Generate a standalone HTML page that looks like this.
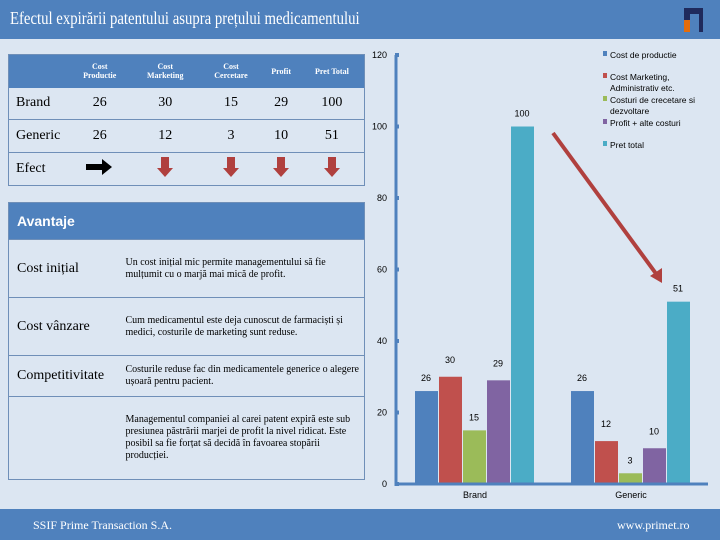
<!DOCTYPE html>
<html><head><meta charset="utf-8"><style>
*{margin:0;padding:0;box-sizing:border-box}
body{width:720px;height:540px;position:relative;background:#dce6f2;font-family:"Liberation Serif",serif;overflow:hidden}
.abs{position:absolute}
.hdr{left:0;top:0;width:720px;height:39px;background:#4f81bd}
.title{left:10px;top:8px;color:#fff;font-size:18px;transform:scaleX(0.82);transform-origin:0 0;white-space:nowrap}
.ftr{left:0;top:509px;width:720px;height:31px;background:#4f81bd;color:#fff;font-size:12px}
table{border-collapse:collapse;position:absolute}
td{border-bottom:1px solid #6f8fb8}
.t1 td{font-size:14px;text-align:center}
.t1 .hd td{background:#4f81bd;color:#fff;font-size:8px;font-weight:bold;line-height:9px;border:none}
.t2 td{font-size:10px;line-height:12px;vertical-align:middle}
.t2 .lab{font-size:14px;padding-left:8px}
</style></head><body>
<div class="abs hdr"></div>
<div class="abs title">Efectul expirării patentului asupra prețului medicamentului</div>
<div class="abs" style="left:684px;top:8px;width:19px;height:24px;background:#1f2a5c"><div style="position:absolute;left:0;top:12px;width:6px;height:12px;background:#e46c0a"></div><div style="position:absolute;left:6px;top:6px;width:9px;height:18px;background:#4f81bd"></div></div>

<table class="t1" style="left:8px;top:54px;width:357px;border:1px solid #6f8fb8">
<tr class="hd" style="height:33px"><td style="width:60px"></td><td>Cost<br>Productie</td><td>Cost<br>Marketing</td><td>Cost<br>Cercetare</td><td>Profit</td><td>Pret Total</td></tr>
<tr style="height:32px"><td style="text-align:left;padding-left:7px">Brand</td><td>26</td><td>30</td><td>15</td><td>29</td><td>100</td></tr>
<tr style="height:33px"><td style="text-align:left;padding-left:7px">Generic</td><td>26</td><td>12</td><td>3</td><td>10</td><td>51</td></tr>
<tr style="height:33px"><td style="text-align:left;padding-left:7px;border:none">Efect</td>
<td style="border:none"><svg width="28" height="16"><path d="M0 5h16v-5l10 8-10 8v-5H0z" fill="#000"/></svg></td>
<td style="border:none"><svg width="16" height="20"><path d="M4 0h8v11h4l-8 9-8-9h4z" fill="#b0403e"/></svg></td>
<td style="border:none"><svg width="16" height="20"><path d="M4 0h8v11h4l-8 9-8-9h4z" fill="#b0403e"/></svg></td>
<td style="border:none"><svg width="16" height="20"><path d="M4 0h8v11h4l-8 9-8-9h4z" fill="#b0403e"/></svg></td>
<td style="border:none"><svg width="16" height="20"><path d="M4 0h8v11h4l-8 9-8-9h4z" fill="#b0403e"/></svg></td></tr>
</table>

<table class="t2" style="left:8px;top:202px;width:357px;border:1px solid #6f8fb8">
<tr style="height:37px"><td colspan="2" style="background:#4f81bd;color:#fff;font-family:'Liberation Sans',sans-serif;font-weight:bold;font-size:14px;padding-left:8px">Avantaje</td></tr>
<tr style="height:58px"><td class="lab" style="width:117px">Cost inițial</td><td>Un cost inițial mic permite managementului să fie mulțumit cu o marjă mai mică de profit.</td></tr>
<tr style="height:58px"><td class="lab">Cost vânzare</td><td>Cum medicamentul este deja cunoscut de farmaciști și medici, costurile de marketing sunt reduse.</td></tr>
<tr style="height:41px"><td class="lab">Competitivitate</td><td>Costurile reduse fac din medicamentele generice o alegere ușoară pentru pacient.</td></tr>
<tr style="height:83px"><td style="border:none"></td><td style="border:none">Managementul companiei al carei patent expiră este sub presiunea păstrării marjei de profit la nivel ridicat. Este posibil sa fie forțat să decidă în favoarea stopării producției.</td></tr>
</table>

<svg class="abs" style="left:0;top:0" width="720" height="540">
<g id="chart"></g>
</svg>

<div class="abs ftr">
<span class="abs" style="left:33px;top:9px">SSIF Prime Transaction S.A.</span>
<span class="abs" style="left:617px;top:9px">www.primet.ro</span>
</div>
<script>
const categories=["Brand","Generic"];
const seriesNames=["Cost de productie","Cost Marketing, Administrativ etc.","Costuri de crecetare si dezvoltare","Profit + alte costuri","Pret total"];
const brandValues=[26,30,15,29,100];
const genericValues=[26,12,3,10,51];
const yTicks=[0,20,40,60,80,100,120];
const colors=["#4f81bd","#c0504d","#9bbb59","#8064a2","#4bacc6"];
const NS="http://www.w3.org/2000/svg";
const g=document.getElementById('chart');
const y0=484,yTop=55,yMax=120,ax=396,ax2=708;
const y=v=>y0-(v/yMax)*(y0-yTop);
const groupStart=[415,571],bw=24;
function el(t,a,txt){const e=document.createElementNS(NS,t);for(const k in a)e.setAttribute(k,a[k]);if(txt!==undefined)e.textContent=txt;g.appendChild(e);return e;}
const vals=[brandValues,genericValues];
vals.forEach((arr,ci)=>{arr.forEach((v,si)=>{
const x=groupStart[ci]+si*bw;
const r=el('rect',{x:x,y:y(v),width:bw-1,height:y0-y(v),fill:colors[si]});


const t=el('text',{x:x+11,y:y(v)-10-(si%2?4:0),'font-size':9,'text-anchor':'middle','font-family':'Liberation Sans,sans-serif'},v);


});
const c=el('text',{x:groupStart[ci]+60,y:498,'font-size':9,'text-anchor':'middle','font-family':'Liberation Sans,sans-serif'},categories[ci]);


});
const ya=el('line',{x1:ax,y1:yTop,x2:ax,y2:y0+2,stroke:'#4f81bd','stroke-width':3});


const xa=el('line',{x1:ax,y1:y0,x2:ax2,y2:y0,stroke:'#4f81bd','stroke-width':3});


yTicks.forEach(v=>{
el('rect',{x:ax-1,y:y(v)-2,width:4,height:4,fill:'#4f81bd'});
const t=el('text',{x:ax-9,y:y(v)+3,'font-size':9,'text-anchor':'end','font-family':'Liberation Sans,sans-serif'},v);


});
const legY=[[55],[77,89],[100,111],[123],[145]];
seriesNames.forEach((n,i)=>{
el('rect',{x:603,y:legY[i][0]-4,width:4,height:5,fill:colors[i]});
const lines=i==1?["Cost Marketing,","Administrativ etc."]:i==2?["Costuri de crecetare si","dezvoltare"]:[n];
lines.forEach((l,j)=>{const t=el('text',{x:610,y:legY[i][0]+3+j*11,'font-size':8.5,'font-family':'Liberation Sans,sans-serif'},l);

});
});
const ar=el('line',{x1:553,y1:133,x2:657,y2:275,stroke:'#b0403e','stroke-width':4});


el('polygon',{points:'662,283 650,276 662,268',fill:'#b0403e'});
</script>
</body></html>
